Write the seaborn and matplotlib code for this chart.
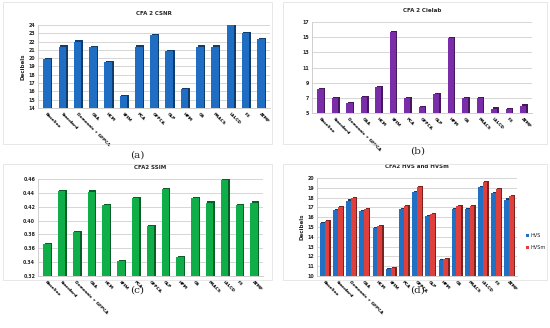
import numpy as np
import pandas as pd
import matplotlib
matplotlib.use("Agg")
import matplotlib.pyplot as plt
import matplotlib.patheffects as pe
from matplotlib.patches import Rectangle
import seaborn as sns

methods = ["Baseline", "Standard", "Demosaic + GFPCA", "GSA", "HCM", "SFIM", "PCA",
           "GFPCA", "GLP", "HPM", "GS", "PRACS", "LSLCD", "F3", "ATMF"]

csnr = [19.9, 21.4, 22.0, 21.3, 19.5, 15.4, 21.4, 22.8, 20.8, 16.3, 21.4, 21.4, 24.0, 23.0, 22.3]
cielab = [8.2, 7.0, 6.3, 7.1, 8.4, 15.7, 7.0, 5.8, 7.5, 14.9, 7.0, 7.0, 5.6, 5.5, 6.0]
ssim = [0.366, 0.443, 0.384, 0.442, 0.423, 0.342, 0.433, 0.392, 0.446, 0.347, 0.433,
        0.426, 0.458, 0.422, 0.426]
hvs = [15.4, 16.7, 17.7, 16.6, 14.9, 10.7, 16.8, 18.6, 16.1, 11.6, 16.8, 16.8, 19.1, 18.5, 17.8]
hvsm = [15.6, 17.0, 18.0, 16.8, 15.1, 10.8, 17.1, 19.1, 16.3, 11.7, 17.1, 17.1, 19.6, 18.9, 18.2]

sns.set_style("white")
plt.rcParams["font.family"] = ["DejaVu Sans"]

fig = plt.figure(figsize=(5.5, 3.28), dpi=100)


def shade(color, f=0.55):
    c = np.array(matplotlib.colors.to_rgb(color))
    return tuple(c * f)


def style_axis(ax, title, ylim, yticks, fmt, ylabel=None):
    ax.set_ylim(*ylim)
    ax.set_yticks(yticks)
    ax.set_yticklabels([fmt.format(v) for v in yticks], fontsize=3.4, fontweight="bold")
    ax.set_xlabel("")
    ax.set_ylabel(ylabel if ylabel else "", fontsize=4.0, fontweight="bold", labelpad=2)
    ax.set_title(title, fontsize=4.0, fontweight="bold", pad=7)
    ax.tick_params(axis="x", labelsize=3.1, length=1.5, width=0.4, pad=1.5, colors="#666666")
    ax.tick_params(axis="y", length=0, pad=2)
    for lab in ax.get_xticklabels():
        lab.set_rotation(-45)
        lab.set_rotation_mode("anchor")
        lab.set_ha("left")
        lab.set_va("top")
        lab.set_fontweight("bold")
        lab.set_color("black")
    ax.yaxis.grid(True, color="#d0d0d0", linewidth=0.6)
    ax.set_axisbelow(True)
    for s in ["top", "right"]:
        ax.spines[s].set_visible(False)
    for s in ["left", "bottom"]:
        ax.spines[s].set_color("#c8c8c8")
        ax.spines[s].set_linewidth(0.6)
    ax.set_xlim(-0.6, len(methods) - 0.4)


def bar3d(ax):
    # darker offset copy behind each bar gives the side face of the Excel 3-D bars
    for p in ax.patches:
        fc = p.get_facecolor()
        p.set_linewidth(0)
        p.set_antialiased(False)
        p.set_path_effects([pe.SimplePatchShadow(offset=(1.1, 0.8), shadow_rgbFace=shade(fc), alpha=1),
                            pe.Normal()])


# (a) CSNR
ax1 = fig.add_axes([0.069, 0.671, 0.422, 0.253])
df1 = pd.DataFrame({"method": methods, "value": csnr})
sns.barplot(data=df1, x="method", y="value", color="#1f6ec4", width=0.5, saturation=1,
            linewidth=0, ax=ax1)
bar3d(ax1)
style_axis(ax1, "CFA 2 CSNR", (14, 24), list(range(14, 25)), "{:d}", "Decibels")

# (b) CIELAB
ax2 = fig.add_axes([0.567, 0.655, 0.400, 0.278])
df2 = pd.DataFrame({"method": methods, "value": cielab})
sns.barplot(data=df2, x="method", y="value", color="#7b2ca8", width=0.42, saturation=1,
            linewidth=0, ax=ax2)
bar3d(ax2)
style_axis(ax2, "CFA 2 Cielab", (5, 17), list(range(5, 18, 2)), "{:d}")

# (c) SSIM
ax3 = fig.add_axes([0.069, 0.159, 0.409, 0.295])
df3 = pd.DataFrame({"method": methods, "value": ssim})
sns.barplot(data=df3, x="method", y="value", color="#0fae48", width=0.5, saturation=1,
            linewidth=0, ax=ax3)
bar3d(ax3)
style_axis(ax3, "CFA2 SSIM", (0.32, 0.46), list(np.round(np.arange(0.32, 0.461, 0.02), 2)), "{:.2f}")

# (d) HVS and HVSm
ax4 = fig.add_axes([0.576, 0.159, 0.364, 0.298])
df4 = pd.DataFrame({"method": methods * 2, "value": hvs + hvsm,
                    "metric": ["HVS"] * len(methods) + ["HVSm"] * len(methods)})
sns.barplot(data=df4, x="method", y="value", hue="metric", palette=["#2270c4", "#e0403c"],
            width=0.72, saturation=1, linewidth=0, ax=ax4)
bar3d(ax4)
style_axis(ax4, "CFA2 HVS and HVSm", (10, 20), list(range(10, 21)), "{:d}", "Decibels")
ax4.legend(loc="center left", bbox_to_anchor=(1.02, 0.35), frameon=False, fontsize=3.6,
           handlelength=0.6, handleheight=0.6, handletextpad=0.4, labelspacing=1.4)
for h in ax4.get_legend().legend_handles:
    h.set_path_effects([])

# panel labels
for x, y, t in [(0.249, 0.528, "(a)"), (0.76, 0.540, "(b)"), (0.249, 0.115, "(c)"), (0.76, 0.115, "(d)")]:
    fig.text(x, y, t, fontsize=7.5, family="DejaVu Serif", ha="center", va="center")

# faint chart frames
for x0, y0, w, h in [(0.005, 0.56, 0.49, 0.435), (0.515, 0.56, 0.48, 0.435),
                     (0.005, 0.145, 0.49, 0.355), (0.515, 0.145, 0.48, 0.355)]:
    fig.add_artist(Rectangle((x0, y0), w, h, transform=fig.transFigure, fill=False,
                             edgecolor="#dddddd", linewidth=0.5))

fig.savefig("out.png", dpi=100)
